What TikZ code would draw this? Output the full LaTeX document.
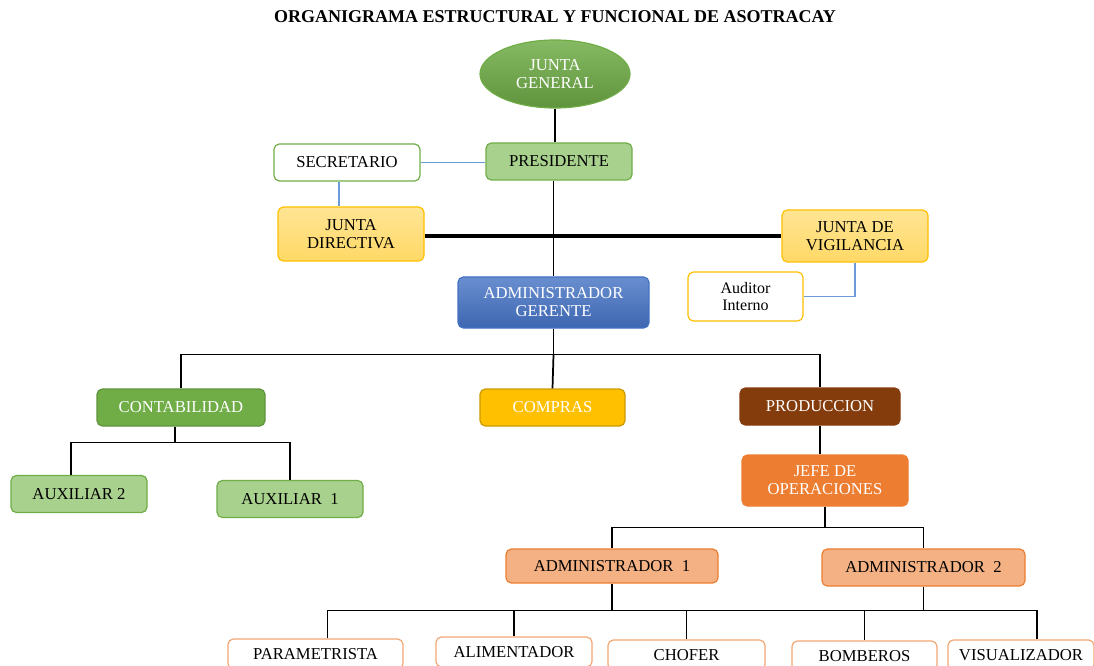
\documentclass[tikz,border=0pt]{standalone}
\usepackage{fontspec}
\setmainfont{Liberation Serif}
\usetikzlibrary{shapes.geometric}

\definecolor{verde}{HTML}{70AD47}
\definecolor{verdeclaro}{HTML}{A9D18E}
\definecolor{amarillo}{HTML}{FFC000}
\definecolor{amarilloclaro}{HTML}{FFD966}
\definecolor{azul}{HTML}{4472C4}
\definecolor{lineaazul}{HTML}{6A9AD8}
\definecolor{cafe}{HTML}{843C0C}
\definecolor{naranja}{HTML}{ED7D31}
\definecolor{salmon}{HTML}{F4B183}

\tikzset{
  caja/.style={draw, rounded corners=4pt, line width=0.9pt, align=center,
    inner sep=1pt, font=\fontsize{12.5}{13.5}\selectfont},
  tam/.style 2 args={minimum width=#1*0.75pt, minimum height=#2*0.75pt},
  blanco/.style={text=white}
}

\begin{document}
\begin{tikzpicture}[x=0.75pt, y=-0.75pt]
  \useasboundingbox (0,0) rectangle (1094,666);
  \clip (0,0) rectangle (1094,666);

  \node (titulo) at (555,17) {\fontsize{13.5}{15}\selectfont\bfseries
    ORGANIGRAMA ESTRUCTURAL Y FUNCIONAL DE ASOTRACAY};

  % direccion
  \node[ellipse, draw=verde, line width=0.9pt, top color=verde!85!white,
    bottom color=verde!85!black, blanco, tam={150}{68}, inner sep=0pt,
    align=center, font=\fontsize{12.5}{13.5}\selectfont] (jg) at (555,74)
    {JUNTA\\GENERAL};
  \node[caja, draw=verde, fill=verdeclaro, tam={146}{37}] (pres) at (559,161.5) {PRESIDENTE};
  \node[caja, draw=verde, fill=white, tam={146}{37}] (sec) at (347,162.5) {SECRETARIO};
  \node[caja, draw=amarillo, top color=amarilloclaro!70!white,
    bottom color=amarilloclaro, tam={146}{54}] (jd) at (351,234) {JUNTA\\DIRECTIVA};
  \node[caja, draw=amarillo, top color=amarilloclaro!70!white,
    bottom color=amarilloclaro, tam={146}{52}] (jv) at (855,236) {JUNTA DE\\VIGILANCIA};
  \node[caja, draw=amarillo, fill=white, tam={115}{49},
    font=\fontsize{12}{13}\selectfont] (aud) at (745.5,296.5) {Auditor\\Interno};
  \node[caja, draw=azul, top color=azul!80!white, bottom color=azul!90!black,
    blanco, tam={191}{51}] (ag) at (553.5,302.5) {ADMINISTRADOR\\GERENTE};

  % departamentos
  \node[caja, draw=verde!85!black, fill=verde, blanco, tam={168}{37}] (cont) at (181,407.5) {CONTABILIDAD};
  \node[caja, draw=amarillo!80!black, fill=amarillo, blanco, tam={145}{37}] (comp) at (552.5,407.5) {COMPRAS};
  \node[caja, draw=cafe, fill=cafe, blanco, tam={160}{37}] (prod) at (820,406.5) {PRODUCCION};
  \node[caja, draw=verde, fill=verdeclaro, tam={136}{37}] (aux2) at (79,494) {AUXILIAR 2};
  \node[caja, draw=verde, fill=verdeclaro, tam={146}{37}] (aux1) at (290,499) {AUXILIAR\ \ 1};
  \node[caja, draw=naranja, fill=naranja, blanco, tam={166}{51}] (jefe) at (825,480.5) {JEFE DE\\OPERACIONES};
  \node[caja, draw=naranja, fill=salmon, tam={212}{34}] (adm1) at (612,566) {ADMINISTRADOR\ \ 1};
  \node[caja, draw=naranja, fill=salmon, tam={203}{37}] (adm2) at (923.5,567.5) {ADMINISTRADOR\ \ 2};

  % operativos
  \node[caja, draw=salmon!80!naranja, fill=white, tam={175}{30}] (param) at (315.5,654) {PARAMETRISTA};
  \node[caja, draw=salmon!80!naranja, fill=white, tam={156}{30}] (alim) at (514,652) {ALIMENTADOR};
  \node[caja, draw=salmon!80!naranja, fill=white, tam={157}{30}] (chof) at (686.5,655) {CHOFER};
  \node[caja, draw=salmon!80!naranja, fill=white, tam={145}{30}] (bomb) at (864.5,656) {BOMBEROS};
  \node[caja, draw=salmon!80!naranja, fill=white, tam={146}{30}] (vis) at (1021,655) {VISUALIZADOR};

  \begin{scope}[color=lineaazul, line width=1.4pt]
    \draw (sec.east) -- (sec.east -| pres.west);
    \draw ([xshift=-6pt]sec.south) -- ([xshift=-6pt]sec.south |- jd.north);
    \draw (jv.south) |- (aud.east);
  \end{scope}
  \begin{scope}[color=black, line width=1.3pt]
    \draw (jg.south) -- (jg.south |- pres.north);
    \draw (ag.north |- pres.south) -- (ag.north);
    \draw[line width=2.4pt] (jd.east |- jv.west) -- (jv.west);
    \draw (ag.south) -- ++(0,26) coordinate (busA);
    \draw (cont.north) -- (cont.north |- busA) -- (prod.north |- busA) -- (prod.north);
    \draw (busA) -- (comp.north);
    \draw ([xshift=-4.5pt]cont.south) -- ++(0,16) coordinate (busB);
    \draw ([xshift=-6pt]aux2.north) -- ([xshift=-6pt]aux2.north |- busB)
      -- (aux1.north |- busB) -- (aux1.north);
    \draw (prod.south) -- (prod.south |- jefe.north);
    \draw (jefe.south) -- ++(0,21) coordinate (busC);
    \draw (adm1.north) -- (adm1.north |- busC) -- (adm2.north |- busC) -- (adm2.north);
    \draw (adm1.south) -- ++(0,27) coordinate (busD);
    \draw ([xshift=9pt]param.north) -- ([xshift=9pt]param.north |- busD)
      -- ([xshift=12pt]vis.north |- busD) -- ([xshift=12pt]vis.north);
    \draw (adm2.south) -- (adm2.south |- busD);
    \draw (alim.north) -- (alim.north |- busD);
    \draw (chof.north) -- (chof.north |- busD);
    \draw (bomb.north) -- (bomb.north |- busD);
  \end{scope}
\end{tikzpicture}
\end{document}
